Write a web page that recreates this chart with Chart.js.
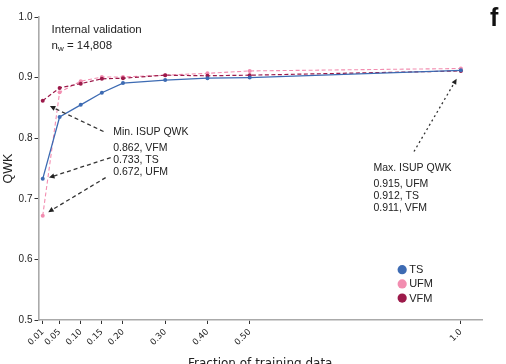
<!DOCTYPE html>
<html>
<head>
<meta charset="utf-8">
<script src="https://cdn.jsdelivr.net/npm/chart.js@4"></script>
<style>
  html, body { margin: 0; padding: 0; background: #fff; }
  #wrap { width: 506px; height: 364px; position: relative; }
</style>
</head>
<body>
<div id="wrap"><canvas id="chart"></canvas></div>
<script>
const fractions = [0.01, 0.05, 0.10, 0.15, 0.20, 0.30, 0.40, 0.50, 1.0]
const xTickLabels = ['0.01', '0.05', '0.10', '0.15', '0.20', '0.30', '0.40', '0.50', '1.0']
const yTicks = [0.5, 0.6, 0.7, 0.8, 0.9, 1.0]

const tsQWK  = [0.733, 0.835, 0.855, 0.875, 0.891, 0.896, 0.899, 0.900, 0.912]
const ufmQWK = [0.672, 0.876, 0.894, 0.901, 0.901, 0.904, 0.907, 0.911, 0.915]
const vfmQWK = [0.862, 0.883, 0.890, 0.898, 0.899, 0.904, 0.903, 0.904, 0.911]

const TS_COL = '#3d6bb3'
const UFM_COL = '#f28db0'
const VFM_COL = '#9c1a4a'
const TXT = '#222'
const SANS = '"Liberation Sans", Arial, sans-serif'

const pts = vals => fractions.map((f, i) => ({ x: f, y: vals[i] }))
const fmt = (v, name) => v.toFixed(3) + ', ' + name

// annotation arrows, in data coordinates: [tailX, tailY, headX, headY, dash]
const arrows = [
  [0.154, 0.811, 0.027, 0.853, [4, 3]],
  [0.171, 0.768, 0.025, 0.735, [4, 3]],
  [0.159, 0.735, 0.023, 0.678, [4, 3]],
  [0.889, 0.778, 0.990, 0.898, [2, 3]]
]

function drawArrow(c, x1, y1, x2, y2, dash) {
  const a = Math.atan2(y2 - y1, x2 - x1)
  const hl = 6
  c.save()
  c.strokeStyle = '#333'
  c.fillStyle = '#222'
  c.lineWidth = 1.3
  c.setLineDash(dash)
  c.beginPath()
  c.moveTo(x1, y1)
  c.lineTo(x2 - Math.cos(a) * hl * 0.8, y2 - Math.sin(a) * hl * 0.8)
  c.stroke()
  c.setLineDash([])
  c.beginPath()
  c.moveTo(x2, y2)
  c.lineTo(x2 - hl * Math.cos(a - 0.45), y2 - hl * Math.sin(a - 0.45))
  c.lineTo(x2 - hl * Math.cos(a + 0.45), y2 - hl * Math.sin(a + 0.45))
  c.closePath()
  c.fill()
  c.restore()
}

const notes = {
  id: 'notes',
  afterDatasetsDraw(chart) {
    const c = chart.ctx
    const xs = chart.scales.x, ys = chart.scales.y
    const px = v => xs.getPixelForValue(v)
    const py = v => ys.getPixelForValue(v)

    arrows.forEach(a => drawArrow(c, px(a[0]), py(a[1]), px(a[2]), py(a[3]), a[4]))

    c.save()
    c.fillStyle = TXT
    c.textBaseline = 'alphabetic'
    c.textAlign = 'left'

    // internal validation block
    c.font = '11.5px ' + SANS
    c.fillText('Internal validation', px(0.031), py(0.973))
    let nx = px(0.031), ny = py(0.948)
    c.fillText('n', nx, ny)
    nx += c.measureText('n').width
    c.font = '8px ' + SANS
    c.fillText('w', nx, ny + 2.5)
    nx += c.measureText('w').width
    c.font = '11.5px ' + SANS
    c.fillText(' = 14,808', nx, ny)

    // min / max blocks
    c.font = '10.5px ' + SANS
    const minLines = ['Min. ISUP QWK',
      fmt(Math.min(...vfmQWK), 'VFM'), fmt(Math.min(...tsQWK), 'TS'), fmt(Math.min(...ufmQWK), 'UFM')]
    const maxLines = ['Max. ISUP QWK',
      fmt(Math.max(...ufmQWK), 'UFM'), fmt(Math.max(...tsQWK), 'TS'), fmt(Math.max(...vfmQWK), 'VFM')]
    const offs = [0, 16, 28, 40]
    minLines.forEach((t, i) => c.fillText(t, px(0.177), py(0.806) + offs[i]))
    maxLines.forEach((t, i) => c.fillText(t, px(0.793), py(0.7454) + offs[i]))

    // legend
    const legX = px(0.861), legY = py(0.583)
    chart.data.datasets.slice().sort((a, b) => a.legendRank - b.legendRank).forEach((ds, i) => {
      const y = legY + i * 14.2
      c.beginPath()
      c.fillStyle = ds.borderColor
      c.arc(legX, y, 4.6, 0, Math.PI * 2)
      c.fill()
      c.fillStyle = TXT
      c.font = '11px ' + SANS
      c.textBaseline = 'middle'
      c.fillText(ds.label, legX + 7, y + 0.5)
    })

    // panel letter
    c.font = 'bold 25px ' + SANS
    c.textBaseline = 'alphabetic'
    c.fillStyle = '#111'
    c.fillText('f', 490, 26)
    c.restore()
  }
}

new Chart(document.getElementById('chart'), {
  type: 'line',
  data: {
    datasets: [
      { label: 'TS', legendRank: 0, data: pts(tsQWK), borderColor: TS_COL, backgroundColor: TS_COL,
        borderWidth: 1.3, pointRadius: 2, pointBorderWidth: 0, order: 0 },
      { label: 'VFM', legendRank: 2, data: pts(vfmQWK), borderColor: VFM_COL, backgroundColor: VFM_COL,
        borderWidth: 1.2, borderDash: [4, 2.5], pointRadius: 2, pointBorderWidth: 0, order: 1 },
      { label: 'UFM', legendRank: 1, data: pts(ufmQWK), borderColor: UFM_COL, backgroundColor: UFM_COL,
        borderWidth: 1.1, borderDash: [4, 2.5], pointRadius: 2, pointBorderWidth: 0, order: 2 }
    ]
  },
  options: {
    responsive: true,
    maintainAspectRatio: false,
    animation: false,
    layout: { padding: { top: 17, right: 24, left: 0, bottom: 0 } },
    plugins: { legend: { display: false }, tooltip: { enabled: false } },
    scales: {
      x: {
        type: 'linear',
        min: 0,
        max: 1.05,
        afterBuildTicks: s => { s.ticks = fractions.map(v => ({ value: v })) },
        afterFit: s => { s.height = 44 },
        ticks: {
          autoSkip: false,
          minRotation: 45,
          maxRotation: 45,
          padding: 3,
          color: TXT,
          font: { family: '"DejaVu Sans"', size: 8.5 },
          callback: (v, i) => xTickLabels[i]
        },
        grid: { drawOnChartArea: false, drawTicks: true, tickLength: 4, color: '#333', lineWidth: 1 },
        border: { color: '#aaa', width: 1.6 },
        title: {
          display: true,
          text: 'Fraction of training data',
          color: TXT,
          font: { family: '"DejaVu Sans"', size: 12 },
          padding: { top: 0, bottom: -7 }
        }
      },
      y: {
        min: 0.5,
        max: 1.0,
        afterBuildTicks: s => { s.ticks = yTicks.map(v => ({ value: v })) },
        afterFit: s => { s.width = 38.5 },
        ticks: {
          color: TXT,
          padding: 2,
          font: { family: SANS, size: 10 },
          callback: v => v.toFixed(1)
        },
        grid: { drawOnChartArea: false, drawTicks: true, tickLength: 4, color: '#333', lineWidth: 1 },
        border: { color: '#aaa', width: 1.6 },
        title: {
          display: true,
          text: 'QWK',
          color: TXT,
          font: { family: SANS, size: 12.5 },
          padding: { top: 1.5, bottom: 0 }
        }
      }
    }
  },
  plugins: [notes]
})
</script>
</body>
</html>
